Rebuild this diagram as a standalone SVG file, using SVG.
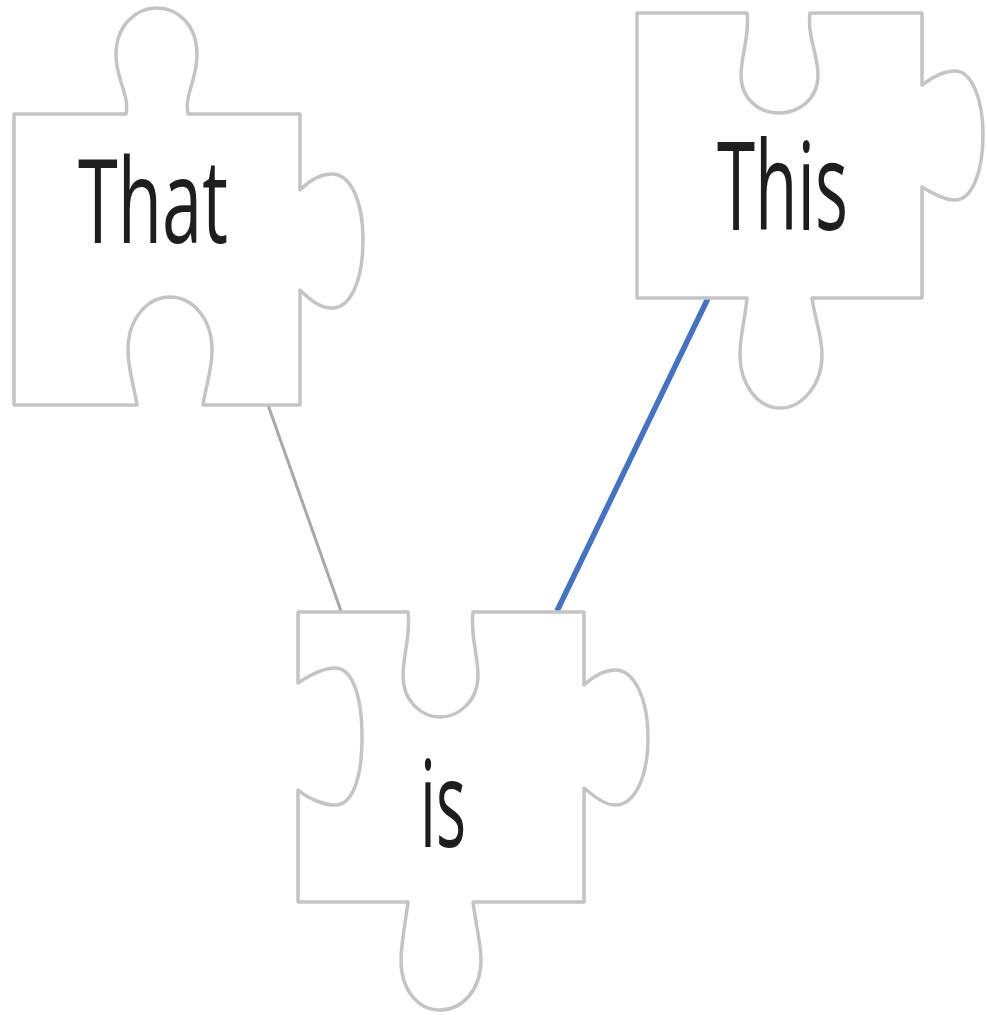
<svg xmlns="http://www.w3.org/2000/svg" width="987" height="1015" viewBox="0 0 987 1015">
<style>
.piece{fill:#ffffff;stroke:#c4c4c4;stroke-width:3.5;stroke-linejoin:round}
.lbl{font-family:"Open Sans","DejaVu Sans",sans-serif;fill:#1e1e1e;font-weight:500}
</style>
<rect width="987" height="1015" fill="#ffffff"/>
<g id="connectors">
<line x1="268" y1="405" x2="341" y2="611" stroke="#a8a8a8" stroke-width="3"/>
<line x1="711" y1="292" x2="557" y2="611" stroke="#4472C4" stroke-width="5.5"/>
</g>
<g id="node-that">
<path class="piece" d="M14,114 H126 C130,95 116,80 116,55 C116,25 136,8 157,8 C178,8 197,25 197,55 C197,80 184,95 188,114 H300 V190 C310,180 320,174 332,174 C350,174 363,200 363,240 C363,282 350,308 332,308 C320,308 310,300 300,290 V405 H203 C206,385 212,370 212,350 C212,318 192,297 170,297 C148,297 128,318 128,350 C128,370 134,385 137,405 H14 Z"/>
<text class="lbl" x="78" y="243" font-size="118" textLength="150" lengthAdjust="spacingAndGlyphs">That</text>
</g>
<g id="node-this">
<path class="piece" d="M637,13 H747 C750,35 741,55 741,75 C741,100 760,113 779,113 C798,113 818,100 818,75 C818,55 807,35 810,13 H922 V85 C935,75 945,71 955,71 C972,71 983,100 983,135 C983,172 972,200 955,200 C945,200 935,195 922,187 V298 H812 C815,320 822,335 822,355 C822,385 802,408 780,408 C758,408 740,385 740,355 C740,335 745,320 747,298 H637 Z"/>
<text class="lbl" x="717" y="230" font-size="122" textLength="131" lengthAdjust="spacingAndGlyphs">This</text>
</g>
<g id="node-is">
<path class="piece" d="M298,612 H408 C411,635 403,655 403,675 C403,702 422,717 440,717 C458,717 478,702 478,675 C478,655 470,635 473,612 H584 V685 C595,675 605,670 615,670 C635,670 648,700 648,737 C648,777 635,805 615,805 C605,805 595,797 584,788 V902 H473 C476,925 481,945 481,960 C481,990 462,1010 440,1010 C418,1010 401,990 401,960 C401,945 405,925 408,902 H298 V790 C310,800 325,805 335,805 C352,805 362,780 362,737 C362,695 352,668 335,668 C325,668 310,675 298,683 Z"/>
<text class="lbl" x="420" y="847" font-size="120" textLength="46" lengthAdjust="spacingAndGlyphs">is</text>
</g>
</svg>
